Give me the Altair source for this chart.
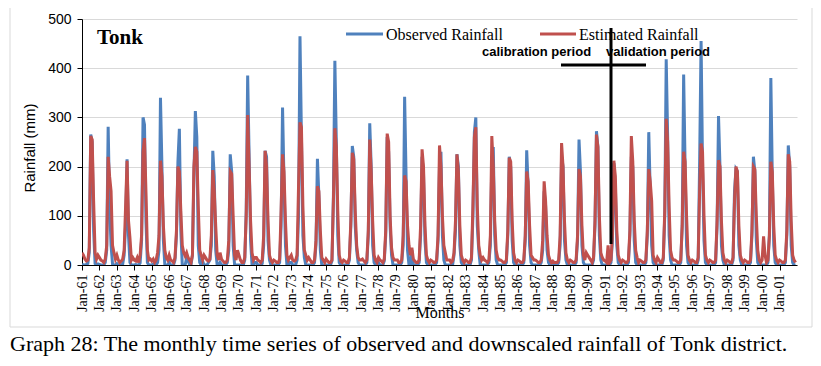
import altair as alt
import pandas as pd

start_year = 1961
# Monthly observed rainfall (mm), one row per year Jan..Dec, 1961-2001
observed = [
    [2, 0, 0, 1, 3, 25, 265, 250, 70, 3, 0, 2],
    [1, 0, 0, 0, 5, 30, 281, 120, 40, 2, 0, 0],
    [3, 0, 0, 0, 2, 20, 80, 215, 60, 5, 0, 0],
    [0, 1, 0, 0, 4, 50, 300, 285, 90, 5, 0, 0],
    [0, 2, 0, 0, 5, 30, 340, 200, 50, 0, 0, 0],
    [5, 0, 0, 0, 10, 60, 210, 277, 70, 0, 0, 0],
    [15, 10, 0, 0, 20, 180, 313, 260, 40, 5, 0, 8],
    [0, 0, 0, 5, 10, 40, 232, 180, 30, 0, 0, 5],
    [0, 0, 0, 0, 5, 30, 225, 190, 40, 0, 0, 0],
    [0, 0, 0, 0, 10, 110, 385, 220, 50, 0, 0, 5],
    [5, 0, 0, 0, 3, 40, 232, 220, 50, 10, 0, 0],
    [0, 0, 0, 0, 5, 80, 320, 170, 40, 0, 0, 5],
    [5, 0, 0, 0, 10, 100, 465, 260, 60, 15, 0, 0],
    [0, 0, 0, 0, 5, 40, 216, 140, 30, 0, 0, 0],
    [0, 0, 0, 0, 8, 140, 415, 250, 60, 5, 0, 0],
    [0, 0, 0, 0, 10, 80, 242, 220, 80, 30, 5, 0],
    [0, 0, 0, 0, 5, 60, 288, 200, 40, 5, 0, 0],
    [5, 0, 0, 0, 8, 60, 260, 230, 80, 20, 0, 0],
    [0, 0, 0, 0, 5, 40, 342, 180, 30, 0, 0, 30],
    [0, 0, 0, 0, 5, 60, 220, 185, 50, 5, 0, 0],
    [0, 0, 0, 0, 5, 50, 200, 230, 60, 10, 0, 0],
    [0, 0, 0, 0, 20, 70, 225, 200, 40, 5, 0, 0],
    [0, 0, 0, 0, 10, 100, 270, 300, 80, 30, 0, 0],
    [0, 0, 0, 0, 5, 40, 210, 240, 60, 10, 0, 0],
    [0, 0, 0, 0, 5, 60, 220, 200, 50, 5, 0, 0],
    [0, 0, 0, 0, 5, 50, 233, 160, 40, 5, 0, 0],
    [0, 0, 0, 0, 5, 30, 150, 120, 30, 5, 0, 0],
    [0, 0, 0, 0, 5, 40, 220, 200, 50, 10, 0, 0],
    [0, 0, 0, 0, 5, 50, 255, 190, 40, 5, 0, 0],
    [0, 0, 0, 0, 10, 80, 272, 240, 60, 10, 0, 0],
    [0, 0, 0, 0, 5, 50, 207, 160, 40, 5, 0, 0],
    [0, 0, 0, 0, 5, 60, 220, 200, 50, 5, 0, 0],
    [0, 0, 0, 0, 5, 60, 270, 150, 40, 5, 0, 0],
    [0, 0, 0, 0, 10, 100, 418, 260, 60, 10, 0, 0],
    [0, 0, 0, 0, 5, 80, 387, 200, 40, 5, 0, 0],
    [0, 0, 0, 0, 10, 210, 455, 200, 50, 5, 0, 0],
    [0, 0, 0, 0, 5, 80, 303, 200, 40, 10, 0, 0],
    [0, 0, 0, 0, 10, 150, 195, 190, 40, 10, 0, 0],
    [0, 0, 0, 0, 5, 60, 220, 190, 50, 5, 0, 0],
    [0, 0, 0, 0, 5, 60, 380, 180, 40, 5, 0, 0],
    [0, 0, 0, 0, 5, 60, 243, 200, 40, 5, 0, 0],
]
# Monthly estimated (downscaled) rainfall (mm)
estimated = [
    [25, 20, 12, 8, 10, 35, 262, 255, 130, 25, 12, 20],
    [15, 10, 8, 5, 12, 40, 220, 180, 150, 40, 25, 12],
    [20, 10, 5, 8, 12, 30, 120, 212, 90, 55, 10, 15],
    [10, 8, 15, 5, 20, 60, 230, 258, 150, 30, 10, 12],
    [8, 12, 5, 10, 25, 60, 212, 180, 80, 30, 15, 10],
    [20, 10, 8, 5, 15, 70, 200, 190, 110, 40, 25, 18],
    [25, 15, 10, 5, 20, 200, 240, 230, 120, 30, 20, 10],
    [20, 15, 10, 8, 12, 60, 193, 150, 80, 20, 10, 25],
    [12, 8, 5, 5, 10, 50, 190, 185, 100, 20, 10, 30],
    [20, 10, 5, 5, 15, 100, 305, 200, 90, 25, 10, 15],
    [15, 10, 8, 5, 10, 60, 232, 200, 90, 20, 10, 5],
    [10, 8, 5, 5, 12, 110, 225, 190, 90, 20, 10, 15],
    [20, 10, 8, 10, 20, 160, 290, 280, 120, 30, 20, 10],
    [15, 10, 5, 5, 10, 50, 160, 150, 70, 15, 10, 5],
    [12, 8, 5, 5, 10, 130, 278, 240, 110, 20, 8, 5],
    [10, 8, 5, 5, 15, 90, 228, 215, 110, 40, 15, 10],
    [10, 12, 8, 5, 10, 70, 255, 190, 90, 20, 10, 5],
    [15, 10, 8, 5, 12, 70, 267, 250, 100, 35, 15, 10],
    [10, 10, 5, 5, 10, 60, 182, 170, 80, 40, 20, 35],
    [12, 8, 5, 5, 10, 80, 235, 200, 80, 20, 10, 5],
    [10, 8, 5, 5, 10, 60, 243, 200, 100, 40, 25, 10],
    [10, 10, 5, 8, 25, 90, 225, 190, 80, 20, 10, 5],
    [10, 8, 5, 5, 15, 120, 260, 280, 120, 40, 20, 10],
    [15, 10, 8, 5, 10, 60, 262, 200, 90, 30, 15, 10],
    [10, 8, 5, 5, 10, 70, 218, 210, 90, 25, 10, 5],
    [10, 8, 5, 5, 10, 60, 190, 170, 80, 20, 15, 10],
    [10, 8, 5, 5, 10, 50, 170, 130, 60, 20, 10, 5],
    [8, 5, 5, 5, 10, 60, 248, 200, 90, 25, 10, 5],
    [10, 8, 5, 5, 10, 60, 195, 180, 80, 20, 10, 25],
    [20, 15, 10, 5, 15, 90, 265, 240, 100, 25, 15, 10],
    [8, 5, 40, 5, 10, 60, 212, 180, 70, 20, 10, 5],
    [10, 8, 5, 5, 10, 70, 262, 210, 90, 30, 15, 5],
    [10, 8, 5, 5, 10, 70, 195, 170, 130, 20, 10, 5],
    [15, 10, 5, 5, 15, 110, 297, 250, 120, 30, 15, 10],
    [10, 8, 5, 5, 10, 80, 230, 210, 100, 20, 10, 5],
    [10, 8, 5, 5, 15, 150, 247, 230, 100, 20, 10, 5],
    [10, 8, 5, 5, 10, 90, 213, 200, 90, 25, 10, 5],
    [10, 8, 5, 5, 15, 130, 200, 190, 80, 20, 10, 5],
    [10, 8, 5, 5, 10, 70, 200, 195, 100, 30, 10, 5],
    [10, 58, 20, 5, 10, 60, 210, 190, 80, 20, 10, 5],
    [10, 8, 5, 5, 10, 70, 225, 210, 90, 20, 10, 5],
]
series_names = ["Observed Rainfall", "Estimated Rainfall"]
y_ticks = [0, 100, 200, 300, 400, 500]
year_ticks = [12 * k for k in range(len(observed))]

rows = []
for name, table in zip(series_names, [observed, estimated]):
    for yi, yr in enumerate(table):
        for m, v in enumerate(yr):
            rows.append({"idx": yi * 12 + m, "value": v, "series": name})
df = pd.DataFrame(rows)

W, H = 715, 246
BLUE = "#4f81bd"
RED = "#c0504d"
SERIF = "Liberation Serif"
SANS = "Liberation Sans"

x_enc = alt.X(
    "idx:Q",
    scale=alt.Scale(domain=[0, len(observed) * 12], nice=False, zero=False),
    axis=alt.Axis(
        values=year_ticks,
        labelExpr="'Jan-' + slice('0' + ((61 + datum.value / 12) % 100), -2)",
        labelAngle=-90,
        labelFont=SERIF,
        labelFontSize=14,
        labelColor="#000000",
        labelPadding=4,
        labelOverlap=False,
        labelFlush=False,
        tickColor="#000000",
        tickSize=5,
        domainColor="#000000",
        domainWidth=1,
        grid=False,
        title=None,
    ),
)
y_enc = alt.Y(
    "value:Q",
    scale=alt.Scale(domain=[0, 500], nice=False),
    axis=alt.Axis(
        values=y_ticks,
        labelFont=SANS,
        labelFontSize=14,
        labelColor="#000000",
        labelPadding=6,
        tickColor="#000000",
        tickSize=5,
        domainColor="#000000",
        domainWidth=1,
        gridColor="#d9d9d9",
        gridWidth=1,
        title=None,
    ),
)

base = alt.Chart(df)
obs_line = base.transform_filter(alt.datum.series == series_names[0]).mark_line(
    color=BLUE, strokeWidth=3, clip=True
).encode(x=x_enc, y=y_enc)
est_line = base.transform_filter(alt.datum.series == series_names[1]).mark_line(
    color=RED, strokeWidth=3, clip=True
).encode(x=x_enc, y=y_enc)

one = pd.DataFrame({"k": [0]})

frame = alt.Chart(one).mark_rect(filled=False, stroke="#d9d9d9", strokeWidth=1).encode(
    x=alt.value(-72), x2=alt.value(730), y=alt.value(-12), y2=alt.value(308)
)

def txt(s, x, y, font, size, weight="normal", align="left", angle=0, baseline="middle"):
    kw = dict(text=s, font=font, fontSize=size, fontWeight=weight, align=align,
              baseline=baseline, color="#000000")
    if angle:
        kw["angle"] = angle
    return alt.Chart(one).mark_text(**kw).encode(x=alt.value(x), y=alt.value(y))

tonk = txt("Tonk", 15, 19, SERIF, 21, weight="bold")
leg_obs_line = alt.Chart(one).mark_rule(color=BLUE, strokeWidth=3).encode(
    x=alt.value(264), x2=alt.value(301), y=alt.value(15)
)
leg_est_line = alt.Chart(one).mark_rule(color=RED, strokeWidth=3).encode(
    x=alt.value(458), x2=alt.value(494), y=alt.value(15)
)
leg_obs = txt(series_names[0], 304, 16, SERIF, 16)
leg_est = txt(series_names[1], 497, 16, SERIF, 16)
calib = txt("calibration period", 400, 33, SANS, 13, weight="bold")
valid = txt("validation period", 524, 33, SANS, 13, weight="bold")
vline = alt.Chart(one).mark_rule(color="#000000", strokeWidth=3).encode(
    x=alt.value(529), y=alt.value(9), y2=alt.value(225)
)
hline = alt.Chart(one).mark_rule(color="#000000", strokeWidth=3).encode(
    x=alt.value(479), x2=alt.value(564), y=alt.value(46)
)
ytitle = txt("Rainfall  (mm)", -52, 129, SANS, 15, align="center", angle=270)
xtitle = txt("Months", 358, 294, SERIF, 16, align="center")
caption = txt(
    "Graph 28: The monthly time series of observed and downscaled rainfall of Tonk district.",
    -72, 332, SERIF, 22, baseline="alphabetic",
)

chart = alt.layer(
    frame, obs_line, est_line, tonk, leg_obs_line, leg_est_line, leg_obs, leg_est,
    calib, valid, vline, hline, ytitle, xtitle, caption,
).properties(
    width=W,
    height=H,
    autosize=alt.AutoSizeParams(type="none"),
    padding={"left": 74, "top": 11, "right": 16, "bottom": 93},
).configure_view(stroke=None)

chart.save("out.html", embed_options={"renderer": "svg", "actions": False})
